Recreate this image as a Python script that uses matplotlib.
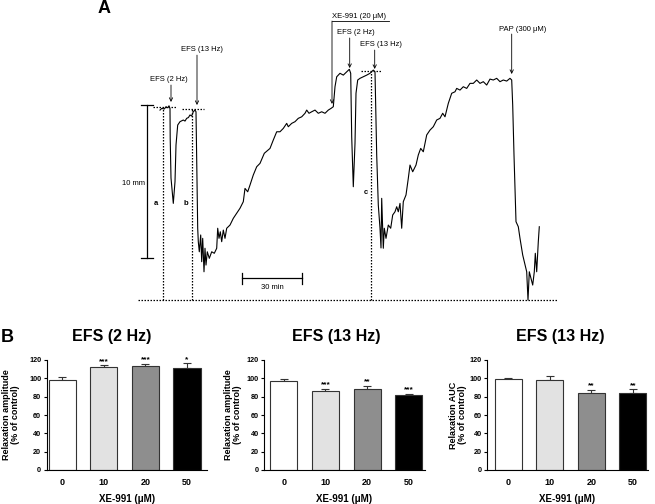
import numpy as np
import matplotlib.pyplot as plt

plt.rcParams['font.family'] = ['Liberation Sans', 'DejaVu Sans']

# --- Panel A: isometric trace (time in min, tension in mm) ---
trace_t = [0, 0.85, 2.15, 3.0, 3.85, 4.5, 5.0, 5.1, 5.5, 6.65, 7.5, 8.0, 8.85, 10.0,
           11.65, 12.5, 13.35, 14.2, 15.0, 15.8, 16.65, 17.5,
           18.0, 18.35, 18.85, 19.15, 19.65, 20.35, 20.85, 21.35, 22.0, 22.5, 23.0,
           23.65, 24.65, 25.85, 27.15, 28.35, 28.85, 29.5, 30.15, 30.85, 31.65, 32.5,
           33.35, 35.0, 36.65, 38.35, 40.0, 41.65, 42.5, 43.85, 45.0, 46.65, 48.35,
           50.0, 52.15, 55.0, 56.65, 58.35, 60.0, 61.65, 63.35, 64.15, 65.85, 67.5,
           69.15, 70.85, 72.5, 73.35, 74.5, 75.85, 77.5, 79.15, 80.85, 82.5, 84.15,
           85.5, 86.65, 87.5, 88.35, 90.0, 91.65, 93.35, 94.65, 95.35, 95.85, 96.65,
           97.5, 98.0, 98.85, 100.0, 101.65, 103.35, 105.0, 106.65, 107.5, 108.35,
           109.15, 110.0, 110.5, 110.85, 111.65, 112.15, 113.0, 114.15, 115.35,
           116.35, 117.5, 118.35, 119.15, 120.0, 120.85, 121.65, 123.0, 124.15,
           125.0, 126.35, 128.0, 129.15, 130.35, 131.65, 133.35, 135.0, 136.65,
           138.35, 140.0, 141.35, 142.5, 144.15, 145.85, 147.5, 148.35, 150.0,
           151.65, 153.35, 155.0, 156.65, 158.35, 160.0, 161.65, 163.35, 165.0,
           166.65, 168.35, 170.0, 171.65, 173.35, 175.0, 175.85, 176.35, 177.0,
           178.0, 179.15, 180.0, 181.35, 182.15, 183.35, 184.0, 184.65, 185.5,
           186.35, 187.15, 187.65, 188.35, 189.15, 189.65]
trace_mm = [12.44, 12.55, 12.51, 12.66, 12.59, 12.72, 12.55, 10.61, 7.99, 6.33, 7.75,
            10.15, 11.46, 11.68, 11.79, 11.72, 11.9, 11.95, 12.12, 12.05, 12.33, 12.44,
            12.33, 9.06, 4.70, 3.82, 3.16, 4.26, 2.51, 4.04, 1.85, 3.39, 2.29,
            3.16, 2.73, 3.16, 3.06, 3.39, 4.70, 4.04, 4.47, 3.82, 4.58, 4.04,
            4.70, 4.91, 5.35, 5.68, 6.01, 6.44, 7.31, 7.09, 7.53, 8.19, 8.73,
            8.95, 9.61, 9.93, 10.48, 11.02, 11.02, 11.24, 11.57, 11.35, 11.57, 11.68,
            11.90, 12.00, 12.23, 12.44, 12.23, 12.33, 12.44, 12.23, 12.33, 12.23, 12.44,
            12.55, 12.66, 13.97, 14.62, 14.85, 14.73, 14.95, 15.11, 14.85, 10.69, 7.42,
            10.26, 13.54, 14.41, 14.52, 14.62, 14.73, 14.85, 15.06, 14.95, 9.50,
            6.22, 4.70, 3.41, 6.66, 3.39, 4.70, 4.04, 4.91, 4.70,
            5.57, 5.78, 6.11, 5.78, 6.33, 4.70, 6.44, 6.88, 7.97,
            8.84, 8.40, 8.84, 9.50, 9.93, 9.71, 10.81, 11.13, 11.35,
            11.79, 11.90, 12.23, 12.00, 12.88, 13.54, 13.64, 13.86, 13.75,
            13.97, 13.86, 14.19, 14.19, 14.41, 14.19, 14.30, 14.08, 14.47,
            14.41, 14.52, 14.30, 14.41, 14.34, 14.52, 14.41, 12.77, 9.50,
            5.13, 4.80, 4.04, 2.95, 2.51, 1.85, 0.0, 1.85, 1.42,
            0.98, 1.85, 3.06, 1.85, 3.82, 4.80]

# stimulus / drug events: (label, time, text height, arrow top, arrow tip, text time)
events = [
    ('EFS (2 Hz)', 5.5, 14.47, 14.08, 12.97, 4.5),
    ('EFS (13 Hz)', 18.5, 16.44, 16.04, 12.77, 21.0),
    ('EFS (2 Hz)', 94.85, 17.49, 17.16, 15.19, 98.0),
    ('EFS (13 Hz)', 107.35, 16.76, 16.37, 15.13, 110.5),
    ('PAP (300 \u03bcM)', 175.85, 17.75, 17.42, 14.80, 181.5),
]

# --- Panel B: bar charts ---
doses = ['0', '10', '20', '50']
bar_colors = ['white', '#e2e2e2', '#8e8e8e', 'black']

amp_2hz = [98.2, 112.3, 113.8, 111.2]
amp_2hz_sem = [3.5, 2.0, 2.2, 5.0]
amp_2hz_sig = ['', '***', '***', '*']

amp_13hz = [97.5, 85.8, 88.8, 81.5]
amp_13hz_sem = [1.8, 3.0, 3.0, 1.5]
amp_13hz_sig = ['', '***', '**', '***']

auc_13hz = [99.6, 97.8, 84.4, 84.0]
auc_13hz_sem = [1.2, 4.6, 3.0, 4.0]
auc_13hz_sig = ['', '', '**', '**']

W, H = 655, 504
fig = plt.figure(figsize=(W / 100, H / 100), dpi=100)

# panel A axes spans the whole figure; 2 px per min, 15.27 px per mm
axA = fig.add_axes([0, 0, 1, 1])
axA.set_xlim(-80, 247.5)
axA.set_ylim(-13.36, 19.65)
axA.axis('off')
axA.patch.set_alpha(0)

axA.plot(trace_t, trace_mm, color='black', lw=0.8)

lab_fs = 5.5
for lab, t_ev, y_txt, y_top, y_tip, t_txt in events:
    axA.annotate('', xy=(t_ev, y_tip), xytext=(t_ev, y_top),
                 arrowprops=dict(arrowstyle='->', color='black', lw=0.6,
                                 shrinkA=0, shrinkB=0, mutation_scale=6))
    axA.text(t_txt, y_txt, lab, ha='center', va='center', fontsize=lab_fs)

# XE-991 with bracket line
axA.text(99.5, 18.6, 'XE-991 (20 \u03bcM)', ha='center', va='center', fontsize=lab_fs)
axA.plot([85.85, 114.5], [18.27, 18.27], color='black', lw=0.6)
axA.annotate('', xy=(86.0, 12.84), xytext=(86.0, 18.27),
             arrowprops=dict(arrowstyle='->', color='black', lw=0.6,
                             shrinkA=0, shrinkB=0, mutation_scale=6))

# dotted reference lines
dot = dict(color='black', lw=0.9, ls=(0, (1.2, 1.2)))
axA.plot([-11, 198.5], [0, 0], **dot)
axA.plot([1.65, 1.65], [0, 12.64], **dot)
axA.plot([15.85, 15.85], [0, 12.51], **dot)
axA.plot([105.5, 105.5], [0, 15.0], **dot)
axA.plot([-3.5, 8], [12.64, 12.64], **dot)
axA.plot([10.85, 22], [12.51, 12.51], **dot)
axA.plot([100.5, 110.85], [15.0, 15.0], **dot)
axA.text(-1.15, 6.35, 'a', ha='right', va='center', fontsize=5.5, fontweight='bold')
axA.text(13.0, 6.35, 'b', ha='center', va='center', fontsize=5.5, fontweight='bold')
axA.text(102.85, 7.03, 'c', ha='center', va='center', fontsize=5.5, fontweight='bold')

# scale bars
axA.plot([-6.65, -6.65], [2.77, 12.77], color='black', lw=0.9)
axA.plot([-9.65, -3.65], [2.77, 2.77], color='black', lw=0.9)
axA.plot([-9.65, -3.65], [12.77, 12.77], color='black', lw=0.9)
axA.text(-7.6, 7.66, '10 mm', ha='right', va='center', fontsize=lab_fs)
axA.plot([41, 71], [1.44, 1.44], color='black', lw=0.9)
axA.plot([41, 41], [1.08, 1.80], color='black', lw=0.9)
axA.plot([71, 71], [1.08, 1.80], color='black', lw=0.9)
axA.text(56, 0.85, '30 min', ha='center', va='center', fontsize=lab_fs)

fig.text(104 / W, 1 - 8.5 / H, 'A', fontsize=13, fontweight='bold', ha='center', va='center')
fig.text(7.5 / W, 1 - 337 / H, 'B', fontsize=13, fontweight='bold', ha='center', va='center')

# --- Panel B ---
panels = [
    (46.7, -0.373, amp_2hz, amp_2hz_sem, amp_2hz_sig, 'Relaxation amplitude\n(% of control)',
     'EFS (2 Hz)', 112, -0.167),
    (264.3, -0.47, amp_13hz, amp_13hz_sem, amp_13hz_sig, 'Relaxation amplitude\n(% of control)',
     'EFS (13 Hz)', 336, -0.139),
    (487.3, -0.50, auc_13hz, auc_13hz_sem, auc_13hz_sig, 'Relaxation AUC\n(% of control)',
     'EFS (13 Hz)', 560, -0.127),
]
ax_w = 160.3
spacing = 41.6
for left_px, x0, vals, sem, sig, ylab, title, title_x, ylab_x in panels:
    ax = fig.add_axes([left_px / W, 1 - 470 / H, ax_w / W, 110 / H])
    x = np.arange(len(doses))
    ax.bar(x, vals, width=0.65, color=bar_colors, edgecolor='#333333', linewidth=0.8, zorder=2)
    ax.errorbar(x, vals, yerr=[np.zeros(len(vals)), sem], fmt='none', ecolor='#333333',
                elinewidth=0.8, capsize=3, capthick=0.8, zorder=1)
    for xi, v, e, s in zip(x, vals, sem, sig):
        if s:
            ax.text(xi, v + e + 0.5, s, ha='center', va='bottom', fontsize=6, fontweight='bold')
    ax.set_xlim(x0, x0 + ax_w / spacing)
    ax.set_ylim(0, 120)
    ax.set_yticks(np.arange(0, 121, 20))
    ax.set_xticks(x)
    ax.set_xticklabels(doses, fontsize=6.5, fontweight='bold')
    ax.tick_params(axis='x', length=0, pad=6)
    ax.tick_params(axis='y', length=2.5, width=0.8, labelsize=5.2, pad=1.5)
    for lbl in ax.get_yticklabels():
        lbl.set_fontweight('bold')
    for sp in ['top', 'right']:
        ax.spines[sp].set_visible(False)
    ax.spines['left'].set_linewidth(0.8)
    ax.spines['bottom'].set_linewidth(0.8)
    ax.set_ylabel(ylab, fontsize=6.5, fontweight='bold', linespacing=1.0)
    ax.yaxis.set_label_coords(ylab_x, 0.5)
    ax.set_xlabel('XE-991 (\u03bcM)', fontsize=7, fontweight='bold', labelpad=5)
    fig.text(title_x / W, 1 - 337 / H, title, fontsize=11.5, fontweight='bold',
             ha='center', va='center')

fig.savefig('out.png', dpi=100)
